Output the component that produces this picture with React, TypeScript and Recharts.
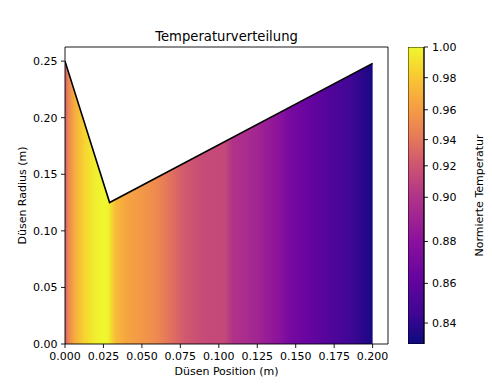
import React from 'react';
import { ComposedChart, Area, XAxis, YAxis, BarChart, Bar, Label } from 'recharts';

const title = 'Temperaturverteilung';
const xLabel = 'Düsen Position (m)';
const yLabel = 'Düsen Radius (m)';
const cbLabel = 'Normierte Temperatur';

// nozzle contour (position, radius)
const contourX = [0, 0.029, 0.2];
const contourR = [0.25, 0.125, 0.248];

// normalized temperature along the nozzle
const tempX = [0, 0.002, 0.0065, 0.013, 0.02, 0.025, 0.028, 0.033, 0.04, 0.05, 0.06, 0.068, 0.078, 0.09, 0.104, 0.107, 0.109, 0.117, 0.125, 0.14, 0.146, 0.159, 0.172, 0.185, 0.198, 0.2];
const tempT = [0.923, 0.947, 0.969, 0.986, 0.997, 1.0, 0.998, 0.974, 0.964, 0.958, 0.95, 0.938, 0.923, 0.915, 0.913, 0.905, 0.9, 0.897, 0.892, 0.88, 0.871, 0.863, 0.854, 0.847, 0.834, 0.8285];

const xTicks = [0, 0.025, 0.05, 0.075, 0.1, 0.125, 0.15, 0.175, 0.2];
const yTicks = [0, 0.05, 0.1, 0.15, 0.2, 0.25];
const xDomain = [0, 0.21];
const yDomain = [0, 0.2625];

// contour levels (colorbar drawn with uniform spacing per level)
const cbLevels = [0.8285, 0.8448, 0.8594, 0.8738, 0.8875, 0.9008, 0.92, 0.9427, 0.9622, 0.9806, 1.0];
const cbTicks = [0.84, 0.86, 0.88, 0.9, 0.92, 0.94, 0.96, 0.98, 1.0];

const PLASMA = [
  [13, 8, 135], [65, 4, 157], [106, 0, 168], [143, 13, 164], [177, 42, 144],
  [204, 71, 120], [225, 100, 98], [242, 132, 75], [252, 166, 54], [252, 206, 37], [240, 249, 33],
];
const SAT = 0.93;

function plasma(t: number): string {
  const c = Math.max(0, Math.min(1, t)) * (PLASMA.length - 1);
  const i = Math.min(PLASMA.length - 2, Math.floor(c));
  const f = c - i;
  const a = PLASMA[i];
  const b = PLASMA[i + 1];
  const rgb = [0, 1, 2].map((k) => a[k] + (b[k] - a[k]) * f);
  const lum = 0.299 * rgb[0] + 0.587 * rgb[1] + 0.114 * rgb[2];
  const out = rgb.map((v) => Math.round(Math.max(0, Math.min(255, lum + (v - lum) * SAT))));
  return `rgb(${out[0]},${out[1]},${out[2]})`;
}

const vmin = cbLevels[0];
const vmax = cbLevels[cbLevels.length - 1];
const norm = (v: number) => (v - vmin) / (vmax - vmin);

const contourData = contourX.map((x, i) => ({ x, r: contourR[i] }));
const xMax = contourX[contourX.length - 1];

const areaStops = tempX.map((x, i) => ({ offset: x / xMax, color: plasma(norm(tempT[i])) }));

// colorbar: index space
function valueToIndex(v: number): number {
  for (let i = 0; i < cbLevels.length - 1; i++) {
    if (v >= cbLevels[i] && v <= cbLevels[i + 1]) {
      return i + (v - cbLevels[i]) / (cbLevels[i + 1] - cbLevels[i]);
    }
  }
  return v < cbLevels[0] ? 0 : cbLevels.length - 1;
}
function indexToValue(idx: number): number {
  const i = Math.min(cbLevels.length - 2, Math.max(0, Math.floor(idx)));
  const f = idx - i;
  return cbLevels[i] + (cbLevels[i + 1] - cbLevels[i]) * f;
}
const nIdx = cbLevels.length - 1;
const cbTickIdx = cbTicks.map(valueToIndex);
const cbStops: { offset: number; color: string }[] = [];
const SUB = 10;
for (let k = 0; k <= nIdx * SUB; k++) {
  const idx = k / SUB;
  cbStops.push({ offset: 1 - idx / nIdx, color: plasma(norm(indexToValue(idx))) });
}
cbStops.reverse();
const cbData = [{ name: 'cb', v: nIdx }];

const FONT = 'DejaVu Sans';
const tickStyle = { fill: '#000', fontSize: 11, fontFamily: FONT };

const vbOf = (p: any, fb: any) => (p && p.viewBox && p.viewBox.width !== undefined ? p.viewBox : fb);

const TitleLabel = (p: any) => {
  const vb = vbOf(p, { x: 65, y: 46, width: 323, height: 1 });
  return (
    <text x={vb.x + vb.width / 2} y={vb.y + vb.height - 6.5} textAnchor="middle" fontSize={13.2} fontFamily={FONT} fill="#000">
      {title}
    </text>
  );
};
const XLabel = (p: any) => {
  const vb = vbOf(p, { x: 65, y: 344, width: 323, height: 43 });
  return (
    <text x={vb.x + vb.width / 2} y={vb.y + 31} textAnchor="middle" fontSize={11} fontFamily={FONT} fill="#000">
      {xLabel}
    </text>
  );
};
const YLabel = (p: any) => {
  const vb = vbOf(p, { x: 0, y: 47, width: 65, height: 297 });
  const cx = vb.x + 25.5;
  const cy = vb.y + vb.height / 2;
  return (
    <text x={cx} y={cy} transform={`rotate(-90, ${cx}, ${cy})`} textAnchor="middle" fontSize={11} fontFamily={FONT} fill="#000">
      {yLabel}
    </text>
  );
};
const CbLabel = (p: any) => {
  const vb = vbOf(p, { x: 424, y: 47, width: 68, height: 297 });
  const cx = vb.x + 59;
  const cy = vb.y + vb.height / 2;
  return (
    <text x={cx} y={cy} transform={`rotate(-90, ${cx}, ${cy})`} textAnchor="middle" fontSize={11} fontFamily={FONT} fill="#000">
      {cbLabel}
    </text>
  );
};

export default function App() {
  return (
    <div style={{ position: 'absolute', left: 0, top: 0, width: 492, height: 387, background: '#fff', fontFamily: FONT }}>
      <div style={{ position: 'absolute', left: 0, top: 0 }}>
        <ComposedChart width={492} height={387} data={contourData} margin={{ top: 46, right: 103, bottom: 0, left: 0 }}>
          <defs>
            <linearGradient id="tempGrad" x1="0" y1="0" x2="1" y2="0">
              {areaStops.map((s, i) => (
                <stop key={i} offset={s.offset} stopColor={s.color} />
              ))}
            </linearGradient>
          </defs>
          <XAxis
            xAxisId="main"
            dataKey="x"
            type="number"
            domain={xDomain}
            ticks={xTicks}
            allowDataOverflow
            height={43}
            tickSize={4}
            tickMargin={4}
            tick={tickStyle}
            tickFormatter={(v: number) => v.toFixed(3)}
            axisLine={{ stroke: '#000', strokeWidth: 0.9 }}
            tickLine={{ stroke: '#000', strokeWidth: 0.9 }}
            interval={0}
          >
            <Label content={<XLabel />} />
          </XAxis>
          <XAxis
            xAxisId="top"
            orientation="top"
            dataKey="x"
            type="number"
            domain={xDomain}
            allowDataOverflow
            height={1}
            tick={false}
            tickLine={false}
            axisLine={{ stroke: '#000', strokeWidth: 0.9 }}
          >
            <Label content={<TitleLabel />} />
          </XAxis>
          <YAxis
            yAxisId="main"
            type="number"
            domain={yDomain}
            ticks={yTicks}
            allowDataOverflow
            width={65}
            tickSize={4}
            tickMargin={3.5}
            tick={tickStyle}
            tickFormatter={(v: number) => v.toFixed(2)}
            axisLine={{ stroke: '#000', strokeWidth: 0.9 }}
            tickLine={{ stroke: '#000', strokeWidth: 0.9 }}
            interval={0}
          >
            <Label content={<YLabel />} />
          </YAxis>
          <YAxis
            yAxisId="right"
            orientation="right"
            type="number"
            domain={yDomain}
            allowDataOverflow
            width={1}
            tick={false}
            tickLine={false}
            axisLine={{ stroke: '#000', strokeWidth: 0.9 }}
          />
          <Area
            xAxisId="top"
            yAxisId="right"
            type="linear"
            dataKey="r"
            stroke="none"
            fill="none"
            fillOpacity={0}
            isAnimationActive={false}
            dot={false}
            activeDot={false}
          />
          <Area
            xAxisId="main"
            yAxisId="main"
            type="linear"
            dataKey="r"
            stroke="#000"
            strokeWidth={1.6}
            fill="url(#tempGrad)"
            fillOpacity={1}
            isAnimationActive={false}
            dot={false}
            activeDot={false}
          />
        </ComposedChart>
      </div>
      <div style={{ position: 'absolute', left: 408, top: 0 }}>
        <BarChart width={84} height={387} data={cbData} margin={{ top: 47, right: 0, bottom: 43, left: 0 }} barCategoryGap={0}>
          <defs>
            <linearGradient id="cbGrad" x1="0" y1="0" x2="0" y2="1">
              {cbStops.map((s, i) => (
                <stop key={i} offset={s.offset} stopColor={s.color} />
              ))}
            </linearGradient>
          </defs>
          <XAxis dataKey="name" hide />
          <YAxis
            orientation="right"
            type="number"
            domain={[0, nIdx]}
            ticks={cbTickIdx}
            allowDataOverflow
            width={68}
            tickSize={4}
            tickMargin={4}
            tick={tickStyle}
            tickFormatter={(v: number) => indexToValue(v).toFixed(2)}
            axisLine={{ stroke: '#000', strokeWidth: 0.9 }}
            tickLine={{ stroke: '#000', strokeWidth: 0.9 }}
            interval={0}
          >
            <Label content={<CbLabel />} />
          </YAxis>
          <Bar dataKey="v" fill="url(#cbGrad)" stroke="#000" strokeWidth={0.9} isAnimationActive={false} />
        </BarChart>
      </div>
    </div>
  );
}
